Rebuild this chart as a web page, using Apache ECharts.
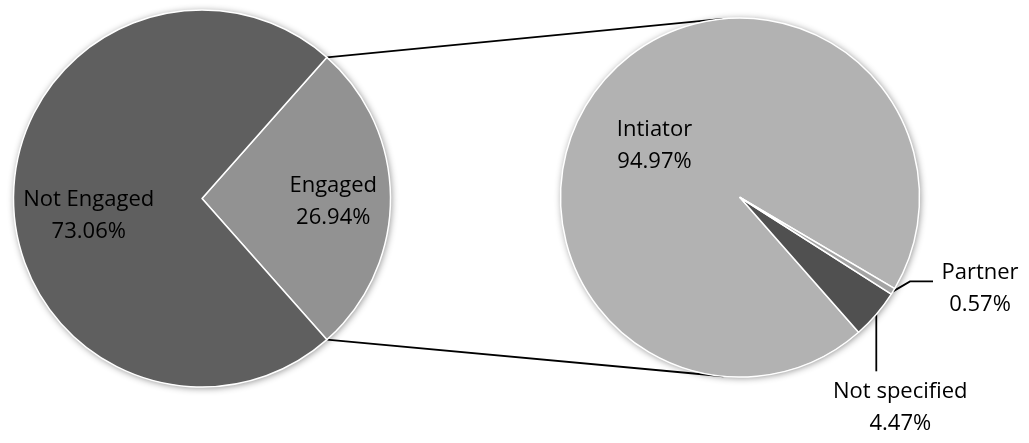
<!DOCTYPE html>
<html><head><meta charset="utf-8">
<script src="https://cdn.jsdelivr.net/npm/echarts@6/dist/echarts.min.js"></script>
<style>html,body{margin:0;padding:0;background:#fff}#c{width:1029px;height:443px}</style>
</head><body><div id="c"></div>
<script>
// ---- data ----
const mainCategories = ['Engaged', 'Not Engaged'];
const mainValues = [26.94, 73.06];
const subCategories = ['Intiator', 'Not specified', 'Partner'];
const subValues = [94.97, 4.47, 0.57];

// ---- styles / layout ----
const mainColors = ['#929292', '#5f5f5f'];
const subColors = ['#b2b2b2', '#505050', '#a3a3a3'];
const L = { cx: 202, cy: 198.5, r: 188.5 };
const R = { cx: 740, cy: 197.5, r: 179.5 };
const FONT = "'Open Sans', 'Noto Sans', sans-serif";

const chart = echarts.init(document.getElementById('c'), null, { renderer: 'canvas' });

const halfDeg = mainValues[0] / 100 * 360 / 2;
const fmt = p => p.name + '\n' + p.value.toFixed(2) + '%';

// connector lines: from left pie boundary points to tangent points on right pie
function tangentPoint(P, C, r, sign) {
  const dx = P[0] - C.cx, dy = P[1] - C.cy;
  const d = Math.hypot(dx, dy);
  const base = Math.atan2(dy, dx);
  const a = Math.acos(r / d);
  const ang = base + sign * a;
  return [C.cx + r * Math.cos(ang), C.cy + r * Math.sin(ang)];
}
const hr = halfDeg * Math.PI / 180;
const pTop = [L.cx + L.r * Math.cos(hr), L.cy - L.r * Math.sin(hr)];
const pBot = [L.cx + L.r * Math.cos(hr), L.cy + L.r * Math.sin(hr)];
const tTop = tangentPoint(pTop, R, R.r, 1);
const tBot = tangentPoint(pBot, R, R.r, -1);

const labelBase = {
  show: true, formatter: fmt, color: '#000', fontFamily: FONT, fontSize: 22, lineHeight: 32, align: 'center'
};

chart.setOption({
  animation: false,
  graphic: [
    { type: 'circle', z: 0, silent: true, shape: { cx: L.cx, cy: L.cy, r: L.r },
      style: { fill: '#fff', shadowBlur: 7, shadowOffsetX: 1, shadowOffsetY: 1, shadowColor: 'rgba(0,0,0,0.45)' } },
    { type: 'circle', z: 0, silent: true, shape: { cx: R.cx, cy: R.cy, r: R.r },
      style: { fill: '#fff', shadowBlur: 7, shadowOffsetX: 1, shadowOffsetY: 1, shadowColor: 'rgba(0,0,0,0.45)' } },
    { type: 'line', z: 0, silent: true, shape: { x1: pTop[0], y1: pTop[1], x2: tTop[0], y2: tTop[1] },
      style: { stroke: '#000', lineWidth: 1.8 } },
    { type: 'line', z: 0, silent: true, shape: { x1: pBot[0], y1: pBot[1], x2: tBot[0], y2: tBot[1] },
      style: { stroke: '#000', lineWidth: 1.8 } }
  ],
  series: [
    {
      type: 'pie',
      center: [L.cx, L.cy],
      radius: [0, L.r],
      startAngle: halfDeg,
      clockwise: true,
      avoidLabelOverlap: false,
      emphasis: { disabled: true },
      itemStyle: { borderColor: '#fff', borderWidth: 1.5 },
      label: Object.assign({ position: 'inside' }, labelBase),
      labelLine: { show: false },
      labelLayout: function (p) {
        if (p.dataIndex === 0) return { dx: 34, dy: 3 };
        return { dx: -16, dy: 17.5 };
      },
      data: mainCategories.map((n, i) => ({ name: n, value: mainValues[i], itemStyle: { color: mainColors[i] } }))
    },
    {
      type: 'pie',
      center: [R.cx, R.cy],
      radius: [0, R.r],
      startAngle: 329.5,
      clockwise: false,
      avoidLabelOverlap: false,
      emphasis: { disabled: true },
      itemStyle: { borderColor: '#fff', borderWidth: 1.5 },
      label: Object.assign({ position: 'outside' }, labelBase),
      labelLine: { show: true, length: 20, length2: 20, lineStyle: { color: '#000', width: 1.8 } },
      labelLayout: function (p) {
        const i = p.dataIndex;
        if (i === 0) return { dx: -14, dy: 7.5 };
        const pts = p.labelLinePoints;
        if (!pts) return {};
        const p0 = pts[0];
        if (i === 1) {
          return { x: p0[0] + 24, y: p0[1] + 93, align: 'center', verticalAlign: 'middle',
            labelLinePoints: [p0, [p0[0], p0[1] + 28], [p0[0], p0[1] + 57]] };
        }
        return { x: p0[0] + 87, y: p0[1] - 3, align: 'center', verticalAlign: 'middle',
          labelLinePoints: [p0, [p0[0] + 17, p0[1] - 10], [p0[0] + 40, p0[1] - 10]] };
      },
      data: subCategories.map((n, i) => ({
        name: n, value: subValues[i], itemStyle: { color: subColors[i] },
        label: i === 0 ? { position: 'inside' } : { position: 'outside' },
        labelLine: { show: i !== 0 }
      }))
    }
  ]
});
</script>
</body></html>
